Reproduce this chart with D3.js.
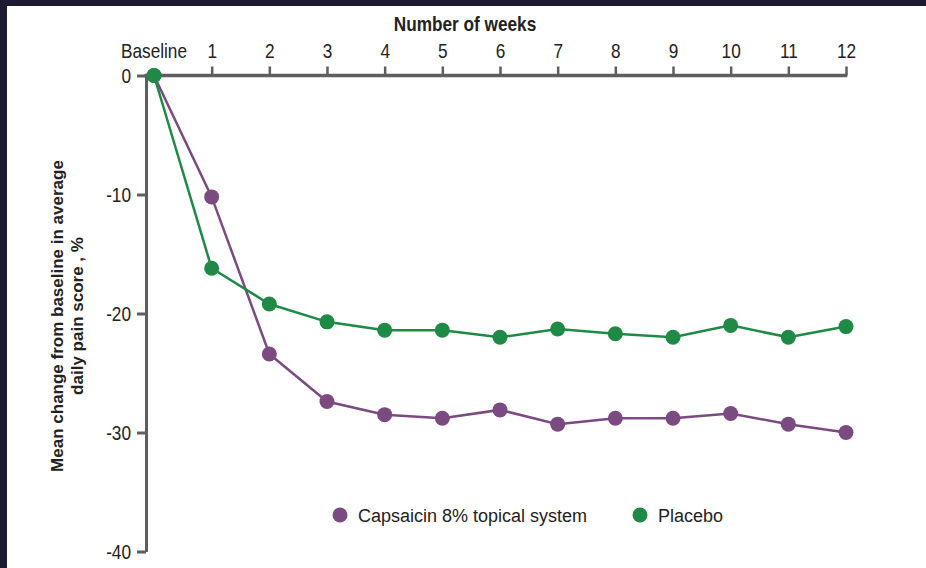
<!DOCTYPE html>
<html>
<head>
<meta charset="utf-8">
<script src="https://cdn.jsdelivr.net/npm/d3@7"></script>
<style>
  html, body { margin: 0; padding: 0; background: #1c1b31; }
  svg { display: block; }
</style>
</head>
<body>
<svg id="chart" width="926" height="568"></svg>
<script>
// ---- data ----
const weeks = [0, 1, 2, 3, 4, 5, 6, 7, 8, 9, 10, 11, 12];
const weekLabels = ["Baseline", "1", "2", "3", "4", "5", "6", "7", "8", "9", "10", "11", "12"];
const capsaicin = [0, -10.2, -23.4, -27.4, -28.5, -28.8, -28.1, -29.3, -28.8, -28.8, -28.4, -29.3, -30.0];
const placebo = [0, -16.2, -19.2, -20.7, -21.4, -21.4, -22.0, -21.3, -21.7, -22.0, -21.0, -22.0, -21.1];
const yTicks = [0, -10, -20, -30, -40];
const seriesNames = ["Capsaicin 8% topical system", "Placebo"];
const seriesColors = ["#7b4a81", "#1f8a45"];

const svg = d3.select("#chart");
const sans = "'Liberation Sans', Arial, sans-serif";
const sx = 0.82; // horizontal condensing for the narrow typeface
const axisColor = "#5e5e5e";

// white panel
svg.append("rect").attr("x", 7).attr("y", 6).attr("width", 919).attr("height", 562).attr("fill", "#ffffff");

const x = d3.scaleLinear().domain([0, 12]).range([154, 846]);
const y = d3.scaleLinear().domain([0, -40]).range([75.5, 551.5]);
const axisX = 146;

// x axis (top)
const xAxis = svg.append("g").attr("transform", `translate(0,${y(0)})`)
  .call(d3.axisTop(x).tickValues(weeks.slice(1)).tickSize(9).tickSizeOuter(0).tickPadding(9)
    .tickFormat((d) => weekLabels[weeks.indexOf(d)]));
xAxis.select(".domain").remove();
xAxis.selectAll(".tick line").attr("stroke", axisColor).attr("stroke-width", 2.5);
xAxis.selectAll(".tick text").attr("fill", "#222").attr("transform", `scale(${sx},1)`)
  .style("font-family", sans).style("font-size", "21px");
// baseline label
xAxis.append("g").attr("transform", `translate(${x(0)},-18) scale(${sx},1)`)
  .append("text").attr("text-anchor", "middle")
  .attr("fill", "#222").style("font-family", sans).style("font-size", "21px").text(weekLabels[0]);
svg.append("line").attr("x1", axisX - 1.5).attr("x2", x(12) + 1.25)
  .attr("y1", y(0)).attr("y2", y(0)).attr("stroke", axisColor).attr("stroke-width", 3.5);

// y axis
const yAxis = svg.append("g").attr("transform", `translate(${axisX},0)`)
  .call(d3.axisLeft(y).tickValues(yTicks).tickSize(9).tickSizeOuter(0).tickPadding(6)
    .tickFormat((d) => String(d)));
yAxis.select(".domain").attr("stroke", axisColor).attr("stroke-width", 3);
yAxis.selectAll(".tick line").attr("stroke", axisColor).attr("stroke-width", 3);
yAxis.selectAll(".tick text").attr("fill", "#222").attr("x", -15 / sx).attr("transform", `scale(${sx},1)`)
  .style("font-family", sans).style("font-size", "21px");

// titles
svg.append("g").attr("transform", `translate(465,31) scale(${sx},1)`)
  .append("text").attr("text-anchor", "middle")
  .attr("fill", "#222").style("font-family", sans).style("font-size", "21px").style("font-weight", "bold")
  .text("Number of weeks");
const yl = svg.append("text").attr("transform", "translate(63,316) rotate(-90)")
  .attr("text-anchor", "middle").attr("fill", "#222")
  .style("font-family", sans).style("font-size", "17px").style("font-weight", "bold");
yl.append("tspan").attr("x", 0).attr("y", 0).text("Mean change from baseline in average");
yl.append("tspan").attr("x", 0).attr("y", 20).text("daily pain score , %");

// series
const line = d3.line().x((d, i) => x(weeks[i])).y((d) => y(d));
[capsaicin, placebo].forEach((vals, si) => {
  svg.append("path").datum(vals).attr("d", line).attr("fill", "none")
    .attr("stroke", seriesColors[si]).attr("stroke-width", 2.5);
  svg.append("g").selectAll("circle").data(vals).join("circle")
    .attr("cx", (d, i) => x(weeks[i])).attr("cy", (d) => y(d)).attr("r", 7.5)
    .attr("fill", seriesColors[si]);
});

// legend
const legendX = [340, 640];
seriesNames.forEach((name, i) => {
  svg.append("circle").attr("cx", legendX[i]).attr("cy", 515).attr("r", 7.5).attr("fill", seriesColors[i]);
  svg.append("text").attr("x", legendX[i] + 18).attr("y", 521.5).attr("fill", "#222")
    .style("font-family", sans).style("font-size", "18px").text(name);
});
</script>
</body>
</html>
